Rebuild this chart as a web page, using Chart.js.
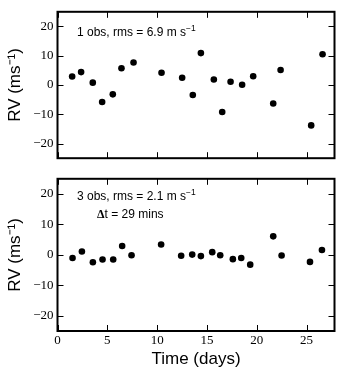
<!DOCTYPE html>
<html>
<head>
<meta charset="utf-8">
<script src="https://cdn.jsdelivr.net/npm/chart.js@4"></script>
<style>
  body { margin: 0; background: #fff; }
  #wrap { position: relative; width: 343px; height: 373px; }
  canvas { position: absolute; left: 0; }
</style>
</head>
<body>
<div id="wrap">
  <canvas id="topPanel" width="343" height="170" style="top:0"></canvas>
  <canvas id="botPanel" width="343" height="206" style="top:167px"></canvas>
</div>
<script>
// Données
const days1 = [1.47, 2.37, 3.54, 4.48, 5.55, 6.42, 7.63, 10.44, 12.51, 13.58, 14.39, 15.69, 16.53, 17.37, 18.53, 19.64, 21.65, 22.39, 25.46, 26.6];
const rv1   = [2.9, 4.4, 0.8, -5.8, -3.2, 5.7, 7.7, 4.2, 2.5, -3.4, 10.9, 1.9, -9.2, 1.1, 0.1, 3.0, -6.3, 5.1, -13.8, 10.5];
const days3 = [1.51, 2.45, 3.55, 4.52, 5.59, 6.49, 7.43, 10.4, 12.41, 13.52, 14.39, 15.53, 16.33, 17.6, 18.44, 19.34, 21.65, 22.49, 25.34, 26.54];
const rv3   = [-1.0, 1.1, -2.4, -1.5, -1.5, 2.9, -0.1, 3.4, -0.3, 0.1, -0.4, 0.9, -0.1, -1.4, -1.0, -3.2, 6.1, -0.2, -2.3, 1.6];
const xTicks = [0, 5, 10, 15, 20, 25];
const yTicks = [-20, -10, 0, 10, 20];

const SANS = '"Liberation Sans", Arial, sans-serif';
const SERIF = '"Liberation Serif", serif';

// Cadre épais + graduations vers l'intérieur
const frame = {
  id: 'frame',
  afterDatasetsDraw(chart) {
    const { ctx, chartArea: a, scales: { x, y } } = chart;
    ctx.save();
    ctx.strokeStyle = '#000';
    ctx.lineWidth = 1;
    ctx.beginPath();
    xTicks.forEach(v => {
      const px = Math.round(x.getPixelForValue(v)) + 0.5;
      ctx.moveTo(px, a.top); ctx.lineTo(px, a.top + 6);
      ctx.moveTo(px, a.bottom); ctx.lineTo(px, a.bottom - 6);
    });
    yTicks.forEach(v => {
      const py = Math.round(y.getPixelForValue(v)) + 0.5;
      ctx.moveTo(a.left, py); ctx.lineTo(a.left + 6, py);
      ctx.moveTo(a.right, py); ctx.lineTo(a.right - 6, py);
    });
    ctx.stroke();
    ctx.lineWidth = 2;
    ctx.strokeRect(a.left, a.top, a.width, a.height);
    ctx.restore();
  }
};

// Texte avec exposant
function drawParts(ctx, x, y, parts) {
  parts.forEach(p => {
    ctx.font = p.font;
    ctx.fillText(p.text, x, y - (p.rise || 0));
    x += ctx.measureText(p.text).width;
  });
}

const notes = {
  id: 'notes',
  afterDraw(chart, args, opts) {
    const { ctx } = chart;
    ctx.save();
    ctx.fillStyle = '#000';
    ctx.textBaseline = 'alphabetic';
    (opts.lines || []).forEach(l => drawParts(ctx, l.x, l.y, l.parts));
    ctx.restore();
  }
};

function rmsLine(label, x, y) {
  return { x, y, parts: [
    { text: label + ' m s', font: '12px ' + SANS },
    { text: '\u22121', font: '8.5px ' + SANS, rise: 5 }
  ] };
}

function makeChart(id, xs, ys, showX, pad, lines) {
  return new Chart(document.getElementById(id), {
    type: 'scatter',
    data: {
      datasets: [{
        data: xs.map((d, i) => ({ x: d, y: ys[i] })),
        backgroundColor: '#000',
        borderWidth: 0,
        pointRadius: 3.3
      }]
    },
    options: {
      responsive: false,
      animation: false,
      events: [],
      layout: { padding: pad },
      plugins: { legend: { display: false }, tooltip: { enabled: false }, notes: { lines } },
      scales: {
        x: {
          type: 'linear', min: 0, max: 27.8,
          display: showX,
          grid: { display: false, drawTicks: false }, border: { display: false },
          afterBuildTicks: s => { s.ticks = xTicks.map(v => ({ value: v })); },
          afterFit: s => { if (showX) s.height = 42; },
          ticks: { font: { family: SERIF, size: 13 }, color: '#000', padding: 2, maxRotation: 0 },
          title: { display: true, text: 'Time (days)', font: { family: SANS, size: 17 }, color: '#000', padding: { top: 0, bottom: 3 } }
        },
        y: {
          min: -25, max: 25,
          grid: { display: false, drawTicks: false }, border: { display: false },
          afterBuildTicks: s => { s.ticks = yTicks.map(v => ({ value: v })); },
          afterFit: s => { s.width = 57.5; },
          ticks: {
            font: { family: SERIF, size: 13 }, color: '#000', padding: 4,
            callback: v => String(v).replace('-', '\u2212')
          },
          title: { display: true, text: 'RV (ms\u207B\u00B9)', font: { family: SANS, size: 17 }, color: '#000', padding: { top: 5, bottom: 0 } }
        }
      }
    },
    plugins: [frame, notes]
  });
}

makeChart('topPanel', days1, rv1, false, { top: 5.5, bottom: 2.5, left: 0, right: 8.5 },
  [rmsLine('1 obs, rms = 6.9', 77, 36)]);

makeChart('botPanel', days3, rv3, true, { top: 2, bottom: 0, left: 0, right: 8.5 },
  [rmsLine('3 obs, rms = 2.1', 77, 33),
   { x: 97, y: 50.7, parts: [
     { text: '\u0394', font: 'bold 12px ' + SERIF },
     { text: 't = 29 mins', font: '12px ' + SANS }
   ] }]);
</script>
</body>
</html>
